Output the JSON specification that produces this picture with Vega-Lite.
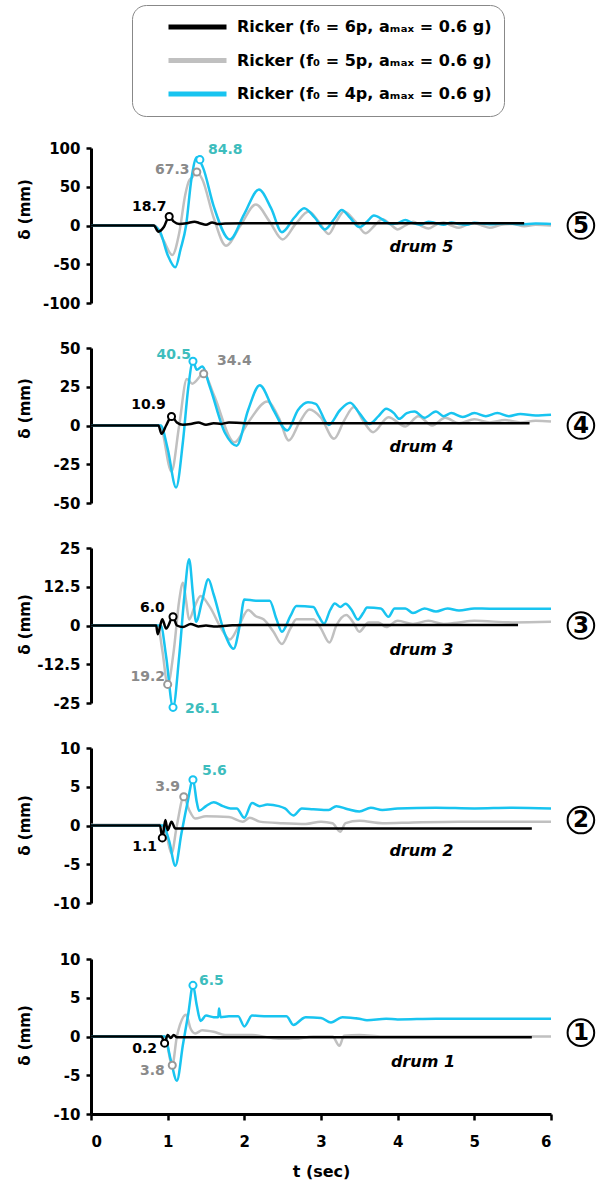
{
"$schema":"https://vega.github.io/schema/vega-lite/v6.json",
"background":"white",
"padding":{"left":17,"top":4,"right":4,"bottom":4},
"config":{
 "view":{"stroke":null},
 "font":"DejaVu Sans",
 "text":{"font":"DejaVu Sans"},
 "axis":{"domainColor":"#000000","domainWidth":3,"tickColor":"#000000","tickWidth":2.5,"tickSize":5,"labelFont":"DejaVu Sans","labelFontSize":15,"labelFontWeight":"bold","labelColor":"#000000","labelPadding":6,"grid":false,"titleFont":"DejaVu Sans","titleFontSize":15,"titleFontWeight":"bold","titleColor":"#000000"},
 "legend":{"labelFont":"DejaVu Sans","labelFontSize":16,"labelFontWeight":"bold","labelColor":"#000000","strokeColor":"#888888","cornerRadius":14,"padding":12,"fillColor":"white","symbolType":"stroke","symbolSize":3364,"symbolStrokeWidth":5,"clipHeight":20,"rowPadding":13.5,"symbolOffset":22,"labelOffset":8,"labelLimit":500}
},
"datasets":{
 "lines":[
{"p":5,"s":"5p","t":0,"d":0},{"p":5,"s":"5p","t":0.83,"d":0},{"p":5,"s":"5p","t":0.95,"d":-20},{"p":5,"s":"5p","t":1.06,"d":-38},{"p":5,"s":"5p","t":1.15,"d":-10},{"p":5,"s":"5p","t":1.23,"d":40},{"p":5,"s":"5p","t":1.28,"d":58},{"p":5,"s":"5p","t":1.32,"d":62},{"p":5,"s":"5p","t":1.38,"d":69},{"p":5,"s":"5p","t":1.45,"d":60},{"p":5,"s":"5p","t":1.6,"d":10},{"p":5,"s":"5p","t":1.76,"d":-26},{"p":5,"s":"5p","t":1.95,"d":0},{"p":5,"s":"5p","t":2.15,"d":27},{"p":5,"s":"5p","t":2.33,"d":5},{"p":5,"s":"5p","t":2.5,"d":-18},{"p":5,"s":"5p","t":2.67,"d":2},{"p":5,"s":"5p","t":2.84,"d":18},{"p":5,"s":"5p","t":2.97,"d":5},{"p":5,"s":"5p","t":3.1,"d":-11},{"p":5,"s":"5p","t":3.2,"d":5},{"p":5,"s":"5p","t":3.3,"d":18},{"p":5,"s":"5p","t":3.45,"d":5},{"p":5,"s":"5p","t":3.58,"d":-10},{"p":5,"s":"5p","t":3.7,"d":0},{"p":5,"s":"5p","t":3.8,"d":8},{"p":5,"s":"5p","t":3.9,"d":2},{"p":5,"s":"5p","t":4.0,"d":-5},{"p":5,"s":"5p","t":4.1,"d":0},{"p":5,"s":"5p","t":4.2,"d":5},{"p":5,"s":"5p","t":4.3,"d":0},{"p":5,"s":"5p","t":4.4,"d":-4},{"p":5,"s":"5p","t":4.5,"d":1},{"p":5,"s":"5p","t":4.6,"d":4},{"p":5,"s":"5p","t":4.7,"d":0},{"p":5,"s":"5p","t":4.8,"d":-3},{"p":5,"s":"5p","t":4.9,"d":1},{"p":5,"s":"5p","t":5.0,"d":3},{"p":5,"s":"5p","t":5.1,"d":0},{"p":5,"s":"5p","t":5.2,"d":-3},{"p":5,"s":"5p","t":5.35,"d":1},{"p":5,"s":"5p","t":5.5,"d":2},{"p":5,"s":"5p","t":5.65,"d":-1},{"p":5,"s":"5p","t":5.8,"d":1},{"p":5,"s":"5p","t":6.0,"d":0},
{"p":4,"s":"5p","t":0,"d":0},{"p":4,"s":"5p","t":0.9,"d":0},{"p":4,"s":"5p","t":1.05,"d":-29.7},{"p":4,"s":"5p","t":1.15,"d":0},{"p":4,"s":"5p","t":1.25,"d":30},{"p":4,"s":"5p","t":1.32,"d":27},{"p":4,"s":"5p","t":1.47,"d":33.4},{"p":4,"s":"5p","t":1.6,"d":20},{"p":4,"s":"5p","t":1.87,"d":-10.8},{"p":4,"s":"5p","t":2.05,"d":2},{"p":4,"s":"5p","t":2.3,"d":15.5},{"p":4,"s":"5p","t":2.45,"d":5},{"p":4,"s":"5p","t":2.58,"d":-9.7},{"p":4,"s":"5p","t":2.72,"d":2},{"p":4,"s":"5p","t":2.85,"d":10.3},{"p":4,"s":"5p","t":3.0,"d":5},{"p":4,"s":"5p","t":3.17,"d":-8.6},{"p":4,"s":"5p","t":3.3,"d":3},{"p":4,"s":"5p","t":3.43,"d":11.9},{"p":4,"s":"5p","t":3.55,"d":3},{"p":4,"s":"5p","t":3.68,"d":-4.3},{"p":4,"s":"5p","t":3.88,"d":5.4},{"p":4,"s":"5p","t":4.1,"d":-0.6},{"p":4,"s":"5p","t":4.27,"d":6},{"p":4,"s":"5p","t":4.45,"d":0},{"p":4,"s":"5p","t":4.62,"d":5},{"p":4,"s":"5p","t":4.8,"d":1.5},{"p":4,"s":"5p","t":5.0,"d":4},{"p":4,"s":"5p","t":5.2,"d":2},{"p":4,"s":"5p","t":5.4,"d":3.5},{"p":4,"s":"5p","t":5.6,"d":2},{"p":4,"s":"5p","t":5.8,"d":3},{"p":4,"s":"5p","t":6.0,"d":2.6},
{"p":3,"s":"5p","t":0,"d":0},{"p":3,"s":"5p","t":0.87,"d":0},{"p":3,"s":"5p","t":0.93,"d":-8},{"p":3,"s":"5p","t":1.0,"d":-19},{"p":3,"s":"5p","t":1.08,"d":-8},{"p":3,"s":"5p","t":1.15,"d":8},{"p":3,"s":"5p","t":1.2,"d":13.8},{"p":3,"s":"5p","t":1.24,"d":8},{"p":3,"s":"5p","t":1.28,"d":1.9},{"p":3,"s":"5p","t":1.35,"d":6},{"p":3,"s":"5p","t":1.43,"d":9.5},{"p":3,"s":"5p","t":1.55,"d":6},{"p":3,"s":"5p","t":1.7,"d":-1},{"p":3,"s":"5p","t":1.81,"d":-4.5},{"p":3,"s":"5p","t":1.93,"d":0},{"p":3,"s":"5p","t":2.05,"d":5},{"p":3,"s":"5p","t":2.15,"d":3},{"p":3,"s":"5p","t":2.25,"d":2},{"p":3,"s":"5p","t":2.38,"d":-2},{"p":3,"s":"5p","t":2.49,"d":-6},{"p":3,"s":"5p","t":2.6,"d":-1},{"p":3,"s":"5p","t":2.68,"d":2},{"p":3,"s":"5p","t":2.9,"d":2},{"p":3,"s":"5p","t":3.0,"d":-1},{"p":3,"s":"5p","t":3.11,"d":-5.5},{"p":3,"s":"5p","t":3.2,"d":0},{"p":3,"s":"5p","t":3.33,"d":3.4},{"p":3,"s":"5p","t":3.42,"d":1},{"p":3,"s":"5p","t":3.5,"d":-2},{"p":3,"s":"5p","t":3.62,"d":1},{"p":3,"s":"5p","t":3.75,"d":1},{"p":3,"s":"5p","t":3.85,"d":-0.5},{"p":3,"s":"5p","t":4.0,"d":1.5},{"p":3,"s":"5p","t":4.2,"d":0.5},{"p":3,"s":"5p","t":4.4,"d":1.5},{"p":3,"s":"5p","t":4.6,"d":0.5},{"p":3,"s":"5p","t":4.8,"d":1},{"p":3,"s":"5p","t":5.0,"d":1.5},{"p":3,"s":"5p","t":5.5,"d":1},{"p":3,"s":"5p","t":6.0,"d":1.2},
{"p":2,"s":"5p","t":0,"d":0.1},{"p":2,"s":"5p","t":0.9,"d":0.1},{"p":2,"s":"5p","t":0.98,"d":-1},{"p":2,"s":"5p","t":1.05,"d":-3.6},{"p":2,"s":"5p","t":1.12,"d":0},{"p":2,"s":"5p","t":1.21,"d":3.7},{"p":2,"s":"5p","t":1.28,"d":2},{"p":2,"s":"5p","t":1.36,"d":0.9},{"p":2,"s":"5p","t":1.5,"d":1.2},{"p":2,"s":"5p","t":1.8,"d":1.1},{"p":2,"s":"5p","t":1.98,"d":0.5},{"p":2,"s":"5p","t":2.07,"d":1},{"p":2,"s":"5p","t":2.2,"d":0.5},{"p":2,"s":"5p","t":2.5,"d":0.3},{"p":2,"s":"5p","t":2.8,"d":0.2},{"p":2,"s":"5p","t":3.0,"d":0.5},{"p":2,"s":"5p","t":3.15,"d":0.3},{"p":2,"s":"5p","t":3.25,"d":-0.8},{"p":2,"s":"5p","t":3.32,"d":0.3},{"p":2,"s":"5p","t":3.5,"d":0.6},{"p":2,"s":"5p","t":3.8,"d":0.3},{"p":2,"s":"5p","t":4.2,"d":0.4},{"p":2,"s":"5p","t":4.8,"d":0.5},{"p":2,"s":"5p","t":5.4,"d":0.5},{"p":2,"s":"5p","t":6.0,"d":0.5},
{"p":1,"s":"5p","t":0,"d":0},{"p":1,"s":"5p","t":0.96,"d":0},{"p":1,"s":"5p","t":1.06,"d":-3.7},{"p":1,"s":"5p","t":1.12,"d":0},{"p":1,"s":"5p","t":1.16,"d":1.5},{"p":1,"s":"5p","t":1.24,"d":2.8},{"p":1,"s":"5p","t":1.3,"d":1},{"p":1,"s":"5p","t":1.36,"d":0.4},{"p":1,"s":"5p","t":1.45,"d":0.8},{"p":1,"s":"5p","t":1.6,"d":0.6},{"p":1,"s":"5p","t":1.75,"d":0.2},{"p":1,"s":"5p","t":2.1,"d":0.2},{"p":1,"s":"5p","t":2.45,"d":-0.3},{"p":1,"s":"5p","t":2.65,"d":-0.3},{"p":1,"s":"5p","t":2.9,"d":0},{"p":1,"s":"5p","t":3.15,"d":0},{"p":1,"s":"5p","t":3.24,"d":-1.2},{"p":1,"s":"5p","t":3.3,"d":0.1},{"p":1,"s":"5p","t":3.5,"d":0.2},{"p":1,"s":"5p","t":3.8,"d":0},{"p":1,"s":"5p","t":6.0,"d":0},
{"p":5,"s":"4p","t":0,"d":0},{"p":5,"s":"4p","t":0.8,"d":0},{"p":5,"s":"4p","t":0.9,"d":-8},{"p":5,"s":"4p","t":1.0,"d":-38},{"p":5,"s":"4p","t":1.1,"d":-54},{"p":5,"s":"4p","t":1.17,"d":-30},{"p":5,"s":"4p","t":1.24,"d":0},{"p":5,"s":"4p","t":1.31,"d":60},{"p":5,"s":"4p","t":1.38,"d":88},{"p":5,"s":"4p","t":1.46,"d":75},{"p":5,"s":"4p","t":1.6,"d":25},{"p":5,"s":"4p","t":1.81,"d":-18},{"p":5,"s":"4p","t":2.0,"d":15},{"p":5,"s":"4p","t":2.19,"d":46.5},{"p":5,"s":"4p","t":2.35,"d":22},{"p":5,"s":"4p","t":2.49,"d":-8.6},{"p":5,"s":"4p","t":2.65,"d":10},{"p":5,"s":"4p","t":2.78,"d":22.4},{"p":5,"s":"4p","t":2.92,"d":10},{"p":5,"s":"4p","t":3.05,"d":-5},{"p":5,"s":"4p","t":3.17,"d":8},{"p":5,"s":"4p","t":3.27,"d":20},{"p":5,"s":"4p","t":3.38,"d":10},{"p":5,"s":"4p","t":3.5,"d":-2},{"p":5,"s":"4p","t":3.6,"d":5},{"p":5,"s":"4p","t":3.69,"d":13},{"p":5,"s":"4p","t":3.8,"d":8},{"p":5,"s":"4p","t":3.9,"d":2},{"p":5,"s":"4p","t":4.0,"d":3},{"p":5,"s":"4p","t":4.1,"d":7},{"p":5,"s":"4p","t":4.2,"d":3},{"p":5,"s":"4p","t":4.3,"d":1},{"p":5,"s":"4p","t":4.4,"d":5},{"p":5,"s":"4p","t":4.5,"d":3},{"p":5,"s":"4p","t":4.6,"d":1},{"p":5,"s":"4p","t":4.7,"d":4},{"p":5,"s":"4p","t":4.8,"d":2},{"p":5,"s":"4p","t":4.9,"d":1},{"p":5,"s":"4p","t":5.0,"d":3.5},{"p":5,"s":"4p","t":5.2,"d":1.5},{"p":5,"s":"4p","t":5.4,"d":3},{"p":5,"s":"4p","t":5.6,"d":1.5},{"p":5,"s":"4p","t":5.8,"d":2.5},{"p":5,"s":"4p","t":6.0,"d":2},
{"p":4,"s":"4p","t":0,"d":0},{"p":4,"s":"4p","t":0.91,"d":0},{"p":4,"s":"4p","t":1.0,"d":-15},{"p":4,"s":"4p","t":1.11,"d":-40},{"p":4,"s":"4p","t":1.2,"d":-10},{"p":4,"s":"4p","t":1.27,"d":25},{"p":4,"s":"4p","t":1.33,"d":41.4},{"p":4,"s":"4p","t":1.38,"d":36},{"p":4,"s":"4p","t":1.45,"d":38},{"p":4,"s":"4p","t":1.55,"d":25},{"p":4,"s":"4p","t":1.75,"d":-5},{"p":4,"s":"4p","t":1.9,"d":-13},{"p":4,"s":"4p","t":2.05,"d":10},{"p":4,"s":"4p","t":2.2,"d":26},{"p":4,"s":"4p","t":2.38,"d":10},{"p":4,"s":"4p","t":2.56,"d":-3.2},{"p":4,"s":"4p","t":2.7,"d":10},{"p":4,"s":"4p","t":2.83,"d":15},{"p":4,"s":"4p","t":2.93,"d":14},{"p":4,"s":"4p","t":3.1,"d":0.4},{"p":4,"s":"4p","t":3.25,"d":10},{"p":4,"s":"4p","t":3.38,"d":14.6},{"p":4,"s":"4p","t":3.5,"d":8},{"p":4,"s":"4p","t":3.63,"d":1},{"p":4,"s":"4p","t":3.75,"d":6},{"p":4,"s":"4p","t":3.85,"d":10.8},{"p":4,"s":"4p","t":3.95,"d":8},{"p":4,"s":"4p","t":4.02,"d":4.3},{"p":4,"s":"4p","t":4.12,"d":8},{"p":4,"s":"4p","t":4.22,"d":9},{"p":4,"s":"4p","t":4.35,"d":5},{"p":4,"s":"4p","t":4.5,"d":9},{"p":4,"s":"4p","t":4.6,"d":6},{"p":4,"s":"4p","t":4.7,"d":8},{"p":4,"s":"4p","t":4.85,"d":5.5},{"p":4,"s":"4p","t":5.0,"d":8},{"p":4,"s":"4p","t":5.15,"d":6},{"p":4,"s":"4p","t":5.3,"d":8},{"p":4,"s":"4p","t":5.45,"d":6},{"p":4,"s":"4p","t":5.6,"d":7.5},{"p":4,"s":"4p","t":5.8,"d":6.5},{"p":4,"s":"4p","t":6.0,"d":7},
{"p":3,"s":"4p","t":0,"d":0},{"p":3,"s":"4p","t":0.91,"d":0},{"p":3,"s":"4p","t":0.98,"d":-10},{"p":3,"s":"4p","t":1.07,"d":-26.4},{"p":3,"s":"4p","t":1.15,"d":-10},{"p":3,"s":"4p","t":1.22,"d":10},{"p":3,"s":"4p","t":1.28,"d":21.4},{"p":3,"s":"4p","t":1.33,"d":10},{"p":3,"s":"4p","t":1.37,"d":1.2},{"p":3,"s":"4p","t":1.45,"d":8},{"p":3,"s":"4p","t":1.53,"d":14.9},{"p":3,"s":"4p","t":1.6,"d":10},{"p":3,"s":"4p","t":1.75,"d":-3},{"p":3,"s":"4p","t":1.86,"d":-7.5},{"p":3,"s":"4p","t":1.94,"d":0},{"p":3,"s":"4p","t":2.0,"d":8.4},{"p":3,"s":"4p","t":2.15,"d":8},{"p":3,"s":"4p","t":2.33,"d":8},{"p":3,"s":"4p","t":2.42,"d":2},{"p":3,"s":"4p","t":2.49,"d":-2},{"p":3,"s":"4p","t":2.6,"d":3},{"p":3,"s":"4p","t":2.68,"d":6.3},{"p":3,"s":"4p","t":2.9,"d":6},{"p":3,"s":"4p","t":2.97,"d":3},{"p":3,"s":"4p","t":3.04,"d":0.6},{"p":3,"s":"4p","t":3.12,"d":5},{"p":3,"s":"4p","t":3.18,"d":7.1},{"p":3,"s":"4p","t":3.25,"d":6},{"p":3,"s":"4p","t":3.32,"d":7},{"p":3,"s":"4p","t":3.4,"d":5},{"p":3,"s":"4p","t":3.48,"d":1.9},{"p":3,"s":"4p","t":3.55,"d":4},{"p":3,"s":"4p","t":3.6,"d":5.8},{"p":3,"s":"4p","t":3.78,"d":5.5},{"p":3,"s":"4p","t":3.88,"d":2.8},{"p":3,"s":"4p","t":3.96,"d":5.5},{"p":3,"s":"4p","t":4.1,"d":5.5},{"p":3,"s":"4p","t":4.2,"d":4},{"p":3,"s":"4p","t":4.35,"d":5.5},{"p":3,"s":"4p","t":4.5,"d":4.5},{"p":3,"s":"4p","t":4.65,"d":5.5},{"p":3,"s":"4p","t":4.8,"d":4.8},{"p":3,"s":"4p","t":5.0,"d":5.5},{"p":3,"s":"4p","t":5.2,"d":5.4},{"p":3,"s":"4p","t":6.0,"d":5.4},
{"p":2,"s":"4p","t":0,"d":0},{"p":2,"s":"4p","t":0.94,"d":0},{"p":2,"s":"4p","t":1.02,"d":-2},{"p":2,"s":"4p","t":1.1,"d":-5.2},{"p":2,"s":"4p","t":1.18,"d":-1},{"p":2,"s":"4p","t":1.26,"d":3},{"p":2,"s":"4p","t":1.33,"d":5.9},{"p":2,"s":"4p","t":1.38,"d":3},{"p":2,"s":"4p","t":1.41,"d":1.9},{"p":2,"s":"4p","t":1.5,"d":2.5},{"p":2,"s":"4p","t":1.6,"d":3},{"p":2,"s":"4p","t":1.72,"d":2.5},{"p":2,"s":"4p","t":1.82,"d":2.2},{"p":2,"s":"4p","t":1.9,"d":2.2},{"p":2,"s":"4p","t":2.0,"d":1.0},{"p":2,"s":"4p","t":2.1,"d":2.9},{"p":2,"s":"4p","t":2.2,"d":2.5},{"p":2,"s":"4p","t":2.3,"d":2.7},{"p":2,"s":"4p","t":2.45,"d":2.5},{"p":2,"s":"4p","t":2.53,"d":2.2},{"p":2,"s":"4p","t":2.64,"d":1.3},{"p":2,"s":"4p","t":2.75,"d":2.2},{"p":2,"s":"4p","t":2.9,"d":2.1},{"p":2,"s":"4p","t":3.1,"d":2.0},{"p":2,"s":"4p","t":3.2,"d":2.5},{"p":2,"s":"4p","t":3.35,"d":2.1},{"p":2,"s":"4p","t":3.5,"d":1.8},{"p":2,"s":"4p","t":3.65,"d":2.3},{"p":2,"s":"4p","t":3.8,"d":2.0},{"p":2,"s":"4p","t":4.0,"d":2.2},{"p":2,"s":"4p","t":4.5,"d":2.3},{"p":2,"s":"4p","t":5.0,"d":2.2},{"p":2,"s":"4p","t":5.5,"d":2.3},{"p":2,"s":"4p","t":6.0,"d":2.2},
{"p":1,"s":"4p","t":0,"d":0},{"p":1,"s":"4p","t":0.96,"d":0},{"p":1,"s":"4p","t":1.04,"d":-3},{"p":1,"s":"4p","t":1.12,"d":-5.7},{"p":1,"s":"4p","t":1.2,"d":-1},{"p":1,"s":"4p","t":1.27,"d":3},{"p":1,"s":"4p","t":1.33,"d":6.6},{"p":1,"s":"4p","t":1.38,"d":4},{"p":1,"s":"4p","t":1.43,"d":2},{"p":1,"s":"4p","t":1.5,"d":2.7},{"p":1,"s":"4p","t":1.6,"d":2.5},{"p":1,"s":"4p","t":1.66,"d":2.5},{"p":1,"s":"4p","t":1.67,"d":3.6},{"p":1,"s":"4p","t":1.69,"d":2.5},{"p":1,"s":"4p","t":1.8,"d":2.6},{"p":1,"s":"4p","t":1.92,"d":2.6},{"p":1,"s":"4p","t":2.0,"d":1.3},{"p":1,"s":"4p","t":2.1,"d":2.7},{"p":1,"s":"4p","t":2.3,"d":2.6},{"p":1,"s":"4p","t":2.55,"d":2.6},{"p":1,"s":"4p","t":2.64,"d":1.5},{"p":1,"s":"4p","t":2.8,"d":2.5},{"p":1,"s":"4p","t":3.0,"d":2.4},{"p":1,"s":"4p","t":3.13,"d":1.8},{"p":1,"s":"4p","t":3.28,"d":2.5},{"p":1,"s":"4p","t":3.5,"d":2.3},{"p":1,"s":"4p","t":3.6,"d":2.1},{"p":1,"s":"4p","t":3.85,"d":2.3},{"p":1,"s":"4p","t":4.0,"d":2.2},{"p":1,"s":"4p","t":4.5,"d":2.3},{"p":1,"s":"4p","t":5.0,"d":2.3},{"p":1,"s":"4p","t":6.0,"d":2.3},
{"p":5,"s":"6p","t":0,"d":0},{"p":5,"s":"6p","t":0.82,"d":0},{"p":5,"s":"6p","t":0.88,"d":-8},{"p":5,"s":"6p","t":0.95,"d":-2},{"p":5,"s":"6p","t":1.02,"d":11.6},{"p":5,"s":"6p","t":1.08,"d":5},{"p":5,"s":"6p","t":1.15,"d":2},{"p":5,"s":"6p","t":1.25,"d":3},{"p":5,"s":"6p","t":1.35,"d":5},{"p":5,"s":"6p","t":1.42,"d":3},{"p":5,"s":"6p","t":1.5,"d":1},{"p":5,"s":"6p","t":1.58,"d":4},{"p":5,"s":"6p","t":1.65,"d":2},{"p":5,"s":"6p","t":1.75,"d":2.5},{"p":5,"s":"6p","t":2.0,"d":3},{"p":5,"s":"6p","t":3.0,"d":3},{"p":5,"s":"6p","t":4.0,"d":3},{"p":5,"s":"6p","t":5.0,"d":3},{"p":5,"s":"6p","t":5.65,"d":3},
{"p":4,"s":"6p","t":0,"d":0},{"p":4,"s":"6p","t":0.88,"d":0},{"p":4,"s":"6p","t":0.92,"d":-5.4},{"p":4,"s":"6p","t":0.98,"d":0},{"p":4,"s":"6p","t":1.05,"d":5.8},{"p":4,"s":"6p","t":1.12,"d":2},{"p":4,"s":"6p","t":1.2,"d":0.5},{"p":4,"s":"6p","t":1.3,"d":1},{"p":4,"s":"6p","t":1.4,"d":2},{"p":4,"s":"6p","t":1.5,"d":0.5},{"p":4,"s":"6p","t":1.6,"d":1.5},{"p":4,"s":"6p","t":1.7,"d":1},{"p":4,"s":"6p","t":1.8,"d":2},{"p":4,"s":"6p","t":2.0,"d":1.5},{"p":4,"s":"6p","t":3.0,"d":1.5},{"p":4,"s":"6p","t":4.0,"d":1.5},{"p":4,"s":"6p","t":5.0,"d":1.5},{"p":4,"s":"6p","t":5.72,"d":1.5},
{"p":3,"s":"6p","t":0,"d":0},{"p":3,"s":"6p","t":0.85,"d":0},{"p":3,"s":"6p","t":0.87,"d":-2.8},{"p":3,"s":"6p","t":0.93,"d":2},{"p":3,"s":"6p","t":0.98,"d":-1},{"p":3,"s":"6p","t":1.07,"d":2.8},{"p":3,"s":"6p","t":1.12,"d":0},{"p":3,"s":"6p","t":1.2,"d":-0.5},{"p":3,"s":"6p","t":1.3,"d":0.5},{"p":3,"s":"6p","t":1.4,"d":-0.3},{"p":3,"s":"6p","t":1.5,"d":0},{"p":3,"s":"6p","t":1.6,"d":-0.3},{"p":3,"s":"6p","t":1.8,"d":0},{"p":3,"s":"6p","t":2.0,"d":0.2},{"p":3,"s":"6p","t":3.0,"d":0.2},{"p":3,"s":"6p","t":4.0,"d":0.2},{"p":3,"s":"6p","t":5.57,"d":0.2},
{"p":2,"s":"6p","t":0,"d":0},{"p":2,"s":"6p","t":0.9,"d":0},{"p":2,"s":"6p","t":0.93,"d":-1.6},{"p":2,"s":"6p","t":0.97,"d":0.7},{"p":2,"s":"6p","t":1.0,"d":-0.6},{"p":2,"s":"6p","t":1.05,"d":0.5},{"p":2,"s":"6p","t":1.1,"d":-0.4},{"p":2,"s":"6p","t":1.15,"d":-0.4},{"p":2,"s":"6p","t":2.0,"d":-0.4},{"p":2,"s":"6p","t":3.0,"d":-0.4},{"p":2,"s":"6p","t":4.0,"d":-0.4},{"p":2,"s":"6p","t":5.75,"d":-0.4},
{"p":1,"s":"6p","t":0,"d":0},{"p":1,"s":"6p","t":0.92,"d":0},{"p":1,"s":"6p","t":0.96,"d":-0.86},{"p":1,"s":"6p","t":1.0,"d":0.2},{"p":1,"s":"6p","t":1.04,"d":-0.2},{"p":1,"s":"6p","t":1.08,"d":0.2},{"p":1,"s":"6p","t":1.12,"d":-0.1},{"p":1,"s":"6p","t":2.0,"d":-0.1},{"p":1,"s":"6p","t":5.75,"d":-0.1}
 ],
 "peaks":[
{"p":5,"s":"4p","t":1.42,"d":85},{"p":5,"s":"5p","t":1.38,"d":69},{"p":5,"s":"6p","t":1.02,"d":11.6},
{"p":4,"s":"4p","t":1.33,"d":41.4},{"p":4,"s":"5p","t":1.47,"d":33.4},{"p":4,"s":"6p","t":1.05,"d":5.8},
{"p":3,"s":"4p","t":1.07,"d":-26.4},{"p":3,"s":"5p","t":1.0,"d":-19},{"p":3,"s":"6p","t":1.07,"d":2.8},
{"p":2,"s":"4p","t":1.33,"d":5.9},{"p":2,"s":"5p","t":1.21,"d":3.7},{"p":2,"s":"6p","t":0.93,"d":-1.6},
{"p":1,"s":"4p","t":1.33,"d":6.6},{"p":1,"s":"5p","t":1.06,"d":-3.7},{"p":1,"s":"6p","t":0.96,"d":-0.86}
 ],
 "labels":[
{"p":5,"s":"4p","t":1.75,"d":97,"label":"84.8"},{"p":5,"s":"5p","t":1.06,"d":72,"label":"67.3"},{"p":5,"s":"6p","t":0.76,"d":24,"label":"18.7"},
{"p":4,"s":"4p","t":1.08,"d":45.3,"label":"40.5"},{"p":4,"s":"5p","t":1.87,"d":41.4,"label":"34.4"},{"p":4,"s":"6p","t":0.75,"d":13.4,"label":"10.9"},
{"p":3,"s":"6p","t":0.8,"d":5.5,"label":"6.0"},{"p":3,"s":"5p","t":0.74,"d":-16.7,"label":"19.2"},{"p":3,"s":"4p","t":1.45,"d":-26.9,"label":"26.1"},
{"p":2,"s":"4p","t":1.61,"d":7.0,"label":"5.6"},{"p":2,"s":"5p","t":1.0,"d":5.0,"label":"3.9"},{"p":2,"s":"6p","t":0.7,"d":-2.8,"label":"1.1"},
{"p":1,"s":"4p","t":1.57,"d":7.1,"label":"6.5"},{"p":1,"s":"6p","t":0.7,"d":-1.6,"label":"0.2"},{"p":1,"s":"5p","t":0.8,"d":-4.5,"label":"3.8"}
 ],
 "drums":[
{"p":5,"t":4.31,"d":-27.6,"text":"drum 5"},{"p":4,"t":4.31,"d":-13.8,"text":"drum 4"},{"p":3,"t":4.31,"d":-8,"text":"drum 3"},{"p":2,"t":4.31,"d":-3.3,"text":"drum 2"},{"p":1,"t":4.33,"d":-3.3,"text":"drum 1"}
 ],
 "badges":[
{"p":5,"t":6.39,"d":0,"n":"5"},{"p":4,"t":6.39,"d":0,"n":"4"},{"p":3,"t":6.39,"d":0,"n":"3"},{"p":2,"t":6.39,"d":0.7,"n":"2"},{"p":1,"t":6.39,"d":0.5,"n":"1"}
 ]
},
"spacing":45,
"bounds":"flush",
"resolve":{"scale":{"stroke":"independent"},"legend":{"stroke":"independent"}},
"vconcat":[
{
 "width":460,"height":155,
 "encoding":{
  "x":{"field":"t","type":"quantitative","scale":{"domain":[0,6],"nice":false,"zero":false},"axis":null},
  "y":{"field":"d","type":"quantitative","scale":{"domain":[-100,100],"nice":false},"axis":{"values":[-100,-50,0,50,100],"labelExpr":"''+datum.value","title":"δ (mm)","titleX":-67,"titleY":61,"titleAngle":270,"titleAlign":"center","titleBaseline":"middle"}}
 },
 "layer":[
  {"data":{"name":"lines"},"transform":[{"filter":"datum.p==5"}],"mark":{"type":"line","interpolate":"monotone","strokeWidth":2.5},"encoding":{"stroke":{"field":"s","type":"nominal","scale":{"domain":["6p","5p","4p"],"range":["#000000","#c0c0c0","#18c4f0"]},"legend":{"title":null,"orient":"none","legendX":41,"legendY":-143,"encode":{"symbols":{"update":{"stroke":{"signal":"datum.value=='4p'?'#36bfbf':datum.value=='5p'?'#c0c0c0':'#000000'"}}}},"labelExpr":"datum.label=='6p'?'Ricker (f₀ = 6p, aₘₐₓ = 0.6 g)\u00a0\u00a0\u00a0':datum.label=='5p'?'Ricker (f₀ = 5p, aₘₐₓ = 0.6 g)\u00a0\u00a0\u00a0':'Ricker (f₀ = 4p, aₘₐₓ = 0.6 g)\u00a0\u00a0\u00a0'"}}}},
  {"data":{"name":"peaks"},"transform":[{"filter":"datum.p==5"}],"mark":{"type":"point","shape":"circle","size":50,"strokeWidth":2,"filled":true,"fill":"white","fillOpacity":1},"encoding":{"stroke":{"condition":[{"test":"datum.s==='4p'","value":"#18c4f0"},{"test":"datum.s==='5p'","value":"#999999"}],"value":"#000000"}}},
  {"data":{"name":"labels"},"transform":[{"filter":"datum.p==5"}],"mark":{"type":"text","fontSize":14,"fontWeight":"bold"},"encoding":{"text":{"field":"label"},"color":{"condition":[{"test":"datum.s==='4p'","value":"#3dbdbd"},{"test":"datum.s==='5p'","value":"#8a8a8a"}],"value":"#000000"}}},
  {"data":{"name":"drums"},"transform":[{"filter":"datum.p==5"}],"mark":{"type":"text","fontSize":16,"fontWeight":"bold","fontStyle":"italic","color":"#000000"},"encoding":{"text":{"field":"text"}}},
  {"data":{"name":"badges"},"transform":[{"filter":"datum.p==5"}],"mark":{"type":"point","shape":"circle","size":707,"strokeWidth":2,"filled":true,"fill":"white","fillOpacity":1,"stroke":"#000000"},"encoding":{}},
  {"data":{"name":"badges"},"transform":[{"filter":"datum.p==5"}],"mark":{"type":"text","fontSize":23,"fontWeight":"bold","color":"#000000"},"encoding":{"text":{"field":"n"}}}
 ]
},
{
 "width":460,"height":155,
 "encoding":{
  "x":{"field":"t","type":"quantitative","scale":{"domain":[0,6],"nice":false,"zero":false},"axis":null},
  "y":{"field":"d","type":"quantitative","scale":{"domain":[-50,50],"nice":false},"axis":{"values":[-50,-25,0,25,50],"labelExpr":"''+datum.value","title":"δ (mm)","titleX":-67,"titleY":60,"titleAngle":270,"titleAlign":"center","titleBaseline":"middle"}}
 },
 "layer":[
  {"data":{"name":"lines"},"transform":[{"filter":"datum.p==4"}],"mark":{"type":"line","interpolate":"monotone","strokeWidth":2.5},"encoding":{"stroke":{"field":"s","type":"nominal","scale":{"domain":["6p","5p","4p"],"range":["#000000","#c0c0c0","#18c4f0"]},"legend":null}}},
  {"data":{"name":"peaks"},"transform":[{"filter":"datum.p==4"}],"mark":{"type":"point","shape":"circle","size":50,"strokeWidth":2,"filled":true,"fill":"white","fillOpacity":1},"encoding":{"stroke":{"condition":[{"test":"datum.s==='4p'","value":"#18c4f0"},{"test":"datum.s==='5p'","value":"#999999"}],"value":"#000000"}}},
  {"data":{"name":"labels"},"transform":[{"filter":"datum.p==4"}],"mark":{"type":"text","fontSize":14,"fontWeight":"bold"},"encoding":{"text":{"field":"label"},"color":{"condition":[{"test":"datum.s==='4p'","value":"#3dbdbd"},{"test":"datum.s==='5p'","value":"#8a8a8a"}],"value":"#000000"}}},
  {"data":{"name":"drums"},"transform":[{"filter":"datum.p==4"}],"mark":{"type":"text","fontSize":16,"fontWeight":"bold","fontStyle":"italic","color":"#000000"},"encoding":{"text":{"field":"text"}}},
  {"data":{"name":"badges"},"transform":[{"filter":"datum.p==4"}],"mark":{"type":"point","shape":"circle","size":707,"strokeWidth":2,"filled":true,"fill":"white","fillOpacity":1,"stroke":"#000000"},"encoding":{}},
  {"data":{"name":"badges"},"transform":[{"filter":"datum.p==4"}],"mark":{"type":"text","fontSize":23,"fontWeight":"bold","color":"#000000"},"encoding":{"text":{"field":"n"}}}
 ]
},
{
 "width":460,"height":155,
 "encoding":{
  "x":{"field":"t","type":"quantitative","scale":{"domain":[0,6],"nice":false,"zero":false},"axis":null},
  "y":{"field":"d","type":"quantitative","scale":{"domain":[-25,25],"nice":false},"axis":{"values":[-25,-12.5,0,12.5,25],"labelExpr":"''+datum.value","title":"δ (mm)","titleX":-67,"titleY":76,"titleAngle":270,"titleAlign":"center","titleBaseline":"middle"}}
 },
 "layer":[
  {"data":{"name":"lines"},"transform":[{"filter":"datum.p==3"}],"mark":{"type":"line","interpolate":"monotone","strokeWidth":2.5},"encoding":{"stroke":{"field":"s","type":"nominal","scale":{"domain":["6p","5p","4p"],"range":["#000000","#c0c0c0","#18c4f0"]},"legend":null}}},
  {"data":{"name":"peaks"},"transform":[{"filter":"datum.p==3"}],"mark":{"type":"point","shape":"circle","size":50,"strokeWidth":2,"filled":true,"fill":"white","fillOpacity":1},"encoding":{"stroke":{"condition":[{"test":"datum.s==='4p'","value":"#18c4f0"},{"test":"datum.s==='5p'","value":"#999999"}],"value":"#000000"}}},
  {"data":{"name":"labels"},"transform":[{"filter":"datum.p==3"}],"mark":{"type":"text","fontSize":14,"fontWeight":"bold"},"encoding":{"text":{"field":"label"},"color":{"condition":[{"test":"datum.s==='4p'","value":"#3dbdbd"},{"test":"datum.s==='5p'","value":"#8a8a8a"}],"value":"#000000"}}},
  {"data":{"name":"drums"},"transform":[{"filter":"datum.p==3"}],"mark":{"type":"text","fontSize":16,"fontWeight":"bold","fontStyle":"italic","color":"#000000"},"encoding":{"text":{"field":"text"}}},
  {"data":{"name":"badges"},"transform":[{"filter":"datum.p==3"}],"mark":{"type":"point","shape":"circle","size":707,"strokeWidth":2,"filled":true,"fill":"white","fillOpacity":1,"stroke":"#000000"},"encoding":{}},
  {"data":{"name":"badges"},"transform":[{"filter":"datum.p==3"}],"mark":{"type":"text","fontSize":23,"fontWeight":"bold","color":"#000000"},"encoding":{"text":{"field":"n"}}}
 ]
},
{
 "width":460,"height":155,
 "encoding":{
  "x":{"field":"t","type":"quantitative","scale":{"domain":[0,6],"nice":false,"zero":false},"axis":null},
  "y":{"field":"d","type":"quantitative","scale":{"domain":[-10,10],"nice":false},"axis":{"values":[-10,-5,0,5,10],"labelExpr":"''+datum.value","title":"δ (mm)","titleX":-67,"titleY":77,"titleAngle":270,"titleAlign":"center","titleBaseline":"middle"}}
 },
 "layer":[
  {"data":{"name":"lines"},"transform":[{"filter":"datum.p==2"}],"mark":{"type":"line","interpolate":"monotone","strokeWidth":2.5},"encoding":{"stroke":{"field":"s","type":"nominal","scale":{"domain":["6p","5p","4p"],"range":["#000000","#c0c0c0","#18c4f0"]},"legend":null}}},
  {"data":{"name":"peaks"},"transform":[{"filter":"datum.p==2"}],"mark":{"type":"point","shape":"circle","size":50,"strokeWidth":2,"filled":true,"fill":"white","fillOpacity":1},"encoding":{"stroke":{"condition":[{"test":"datum.s==='4p'","value":"#18c4f0"},{"test":"datum.s==='5p'","value":"#999999"}],"value":"#000000"}}},
  {"data":{"name":"labels"},"transform":[{"filter":"datum.p==2"}],"mark":{"type":"text","fontSize":14,"fontWeight":"bold"},"encoding":{"text":{"field":"label"},"color":{"condition":[{"test":"datum.s==='4p'","value":"#3dbdbd"},{"test":"datum.s==='5p'","value":"#8a8a8a"}],"value":"#000000"}}},
  {"data":{"name":"drums"},"transform":[{"filter":"datum.p==2"}],"mark":{"type":"text","fontSize":16,"fontWeight":"bold","fontStyle":"italic","color":"#000000"},"encoding":{"text":{"field":"text"}}},
  {"data":{"name":"badges"},"transform":[{"filter":"datum.p==2"}],"mark":{"type":"point","shape":"circle","size":707,"strokeWidth":2,"filled":true,"fill":"white","fillOpacity":1,"stroke":"#000000"},"encoding":{}},
  {"data":{"name":"badges"},"transform":[{"filter":"datum.p==2"}],"mark":{"type":"text","fontSize":23,"fontWeight":"bold","color":"#000000"},"encoding":{"text":{"field":"n"}}}
 ]
},
{
 "width":460,"height":166,
 "encoding":{
  "x":{"field":"t","type":"quantitative","scale":{"domain":[0,6],"nice":false,"zero":false},"axis":{"values":[0,1,2,3,4,5,6],"labelExpr":"''+datum.value","title":"t (sec)","tickSize":6,"labelPadding":14,"titlePadding":14,"titleFontSize":16}},
  "y":{"field":"d","type":"quantitative","scale":{"domain":[-10,10],"nice":false,"range":[166,11]},"axis":{"values":[-10,-5,0,5,10],"labelExpr":"''+datum.value","title":"δ (mm)","titleX":-67,"titleY":87,"titleAngle":270,"titleAlign":"center","titleBaseline":"middle"}}
 },
 "layer":[
  {"data":{"name":"lines"},"transform":[{"filter":"datum.p==1"}],"mark":{"type":"line","interpolate":"monotone","strokeWidth":2.5},"encoding":{"stroke":{"field":"s","type":"nominal","scale":{"domain":["6p","5p","4p"],"range":["#000000","#c0c0c0","#18c4f0"]},"legend":null}}},
  {"data":{"name":"peaks"},"transform":[{"filter":"datum.p==1"}],"mark":{"type":"point","shape":"circle","size":50,"strokeWidth":2,"filled":true,"fill":"white","fillOpacity":1},"encoding":{"stroke":{"condition":[{"test":"datum.s==='4p'","value":"#18c4f0"},{"test":"datum.s==='5p'","value":"#999999"}],"value":"#000000"}}},
  {"data":{"name":"labels"},"transform":[{"filter":"datum.p==1"}],"mark":{"type":"text","fontSize":14,"fontWeight":"bold"},"encoding":{"text":{"field":"label"},"color":{"condition":[{"test":"datum.s==='4p'","value":"#3dbdbd"},{"test":"datum.s==='5p'","value":"#8a8a8a"}],"value":"#000000"}}},
  {"data":{"name":"drums"},"transform":[{"filter":"datum.p==1"}],"mark":{"type":"text","fontSize":16,"fontWeight":"bold","fontStyle":"italic","color":"#000000"},"encoding":{"text":{"field":"text"}}},
  {"data":{"name":"badges"},"transform":[{"filter":"datum.p==1"}],"mark":{"type":"point","shape":"circle","size":707,"strokeWidth":2,"filled":true,"fill":"white","fillOpacity":1,"stroke":"#000000"},"encoding":{}},
  {"data":{"name":"badges"},"transform":[{"filter":"datum.p==1"}],"mark":{"type":"text","fontSize":23,"fontWeight":"bold","color":"#000000"},"encoding":{"text":{"field":"n"}}}
 ]
}
]
}
